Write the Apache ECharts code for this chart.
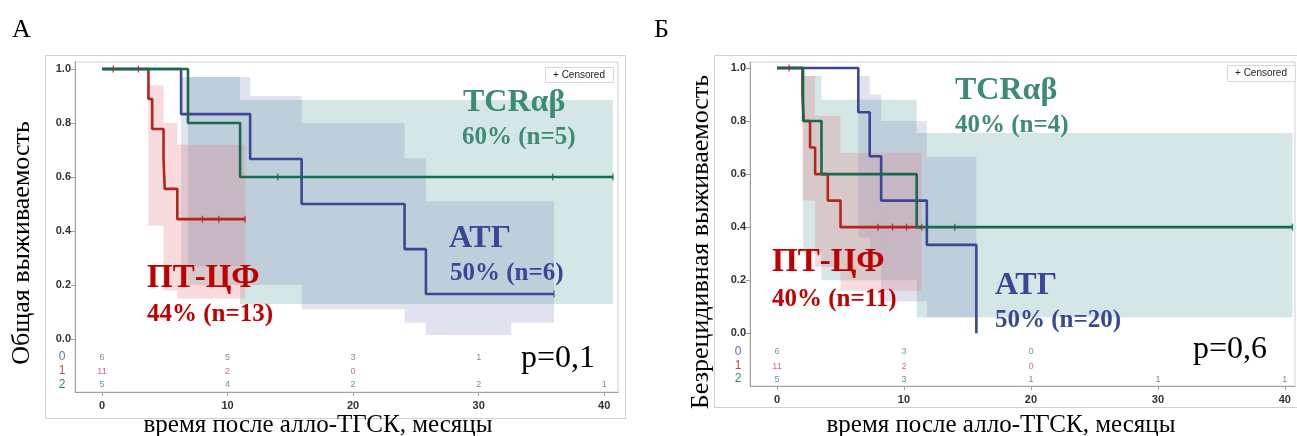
<!DOCTYPE html>
<html>
<head>
<meta charset="utf-8">
<script src="https://cdn.jsdelivr.net/npm/echarts@6/dist/echarts.min.js"></script>
<style>
  html, body { margin: 0; padding: 0; background: #fff; }
  #charts { width: 1297px; height: 436px; }
</style>
</head>
<body>
<div id="charts"></div>
<script>
// ---- data ----
const timeTicks = [0, 10, 20, 30, 40]
const survTicks = [0, 0.2, 0.4, 0.6, 0.8, 1.0]

// panel A: overall survival, KM steps [month, survival]
const osAtg = [[0, 1], [6.3, 0.833], [11.8, 0.667], [15.9, 0.5], [24.1, 0.333], [25.8, 0.167], [36.0, 0.167]]
const osPtcf = [[0, 1], [3.7, 0.889], [4.0, 0.778], [4.9, 0.667], [5.0, 0.556], [6.0, 0.444], [11.4, 0.444]]
const osTcr = [[0, 1], [6.85, 0.8], [11.0, 0.6], [40.7, 0.6]]
const osAtgCens = [[36.0, 0.167]]
const osPtcfCens = [[0.9, 1], [2.9, 1], [8.0, 0.444], [9.3, 0.444], [11.4, 0.444]]
const osTcrCens = [[14.0, 0.6], [35.9, 0.6], [40.7, 0.6]]
// confidence bands [from, to, lower, upper]
const osAtgBand = [[6.3, 11.8, 0.27, 0.97], [11.8, 15.9, 0.2, 0.9], [15.9, 24.1, 0.11, 0.8], [24.1, 25.8, 0.06, 0.67], [25.8, 32.6, 0.015, 0.51], [32.6, 36.0, 0.06, 0.51]]
const osPtcfBand = [[3.7, 4.9, 0.42, 0.94], [4.9, 6.0, 0.18, 0.8], [6.0, 11.4, 0.15, 0.72]]
const osTcrBand = [[6.85, 11.0, 0.2, 0.97], [11.0, 40.7, 0.13, 0.885]]
const osRiskAtg = [6, 5, 3, 1, null]
const osRiskPtcf = [11, 2, 0, null, null]
const osRiskTcr = [5, 4, 2, 2, 1]

// panel B: relapse-free survival
const rfsAtg = [[0, 1], [6.4, 0.833], [7.3, 0.667], [8.2, 0.5], [11.8, 0.333], [15.7, 0]]
const rfsPtcf = [[0, 1], [2.0, 0.9], [2.1, 0.8], [2.6, 0.7], [3.0, 0.6], [4.0, 0.5], [5.0, 0.4], [11.4, 0.4]]
const rfsTcr = [[0, 1], [2.05, 0.8], [3.5, 0.6], [11.0, 0.4], [40.6, 0.4]]
const rfsAtgCens = []
const rfsPtcfCens = [[0.95, 1], [7.95, 0.4], [9.1, 0.4], [10.2, 0.4], [11.4, 0.4]]
const rfsTcrCens = [[14.0, 0.4], [40.6, 0.4]]
const rfsAtgBand = [[6.4, 7.3, 0.36, 0.97], [7.3, 8.2, 0.3, 0.9], [8.2, 11.8, 0.12, 0.8], [11.8, 15.7, 0.06, 0.665]]
const rfsPtcfBand = [[2.0, 3.0, 0.5, 0.97], [3.0, 5.0, 0.25, 0.82], [5.0, 11.4, 0.16, 0.68]]
const rfsTcrBand = [[2.05, 3.5, 0.3, 0.97], [3.5, 11.0, 0.2, 0.88], [11.0, 40.6, 0.06, 0.755]]
const rfsRiskAtg = [6, 3, 0, null, null]
const rfsRiskPtcf = [11, 2, 0, null, null]
const rfsRiskTcr = [5, 3, 1, 1, 1]

// ---- styles ----
const SERIF = '"Liberation Serif", "Times New Roman", serif'
const SANS = '"Liberation Sans", Arial, sans-serif'
const C = {
  atg: '#3c4696', ptcf: '#b3261e', tcr: '#17694f',
  atgBand: 'rgba(100,110,175,0.2)', ptcfBand: 'rgba(225,110,120,0.25)', tcrBand: 'rgba(100,170,165,0.28)',
  atgText: '#3a4796', ptcfText: '#c00000', tcrText: '#3d8a76',
  riskAtg: '#6b6f9e', riskPtcf: '#b05050', riskTcr: '#3d7d6a'
}

function bandSeries(idx, data, color) {
  return {
    type: 'custom', xAxisIndex: idx, yAxisIndex: idx, silent: true, z: 1,
    encode: { x: [0, 1], y: [2, 3] },
    data: data,
    renderItem(params, api) {
      const p0 = api.coord([api.value(0), api.value(3)])
      const p1 = api.coord([api.value(1), api.value(2)])
      return {
        type: 'rect',
        shape: { x: p0[0], y: p0[1], width: p1[0] - p0[0], height: p1[1] - p0[1] },
        style: { fill: color }
      }
    }
  }
}
function curveSeries(idx, data, color) {
  return {
    type: 'line', xAxisIndex: idx, yAxisIndex: idx, step: 'end', z: 3,
    showSymbol: false, silent: true, data: data,
    lineStyle: { color: color, width: 2.6 }
  }
}
function censorSeries(idx, data, color) {
  return {
    type: 'scatter', xAxisIndex: idx, yAxisIndex: idx, z: 4, silent: true,
    symbol: 'rect', symbolSize: [1.4, 7], data: data,
    itemStyle: { color: color }
  }
}
function riskSeries(idx, counts, rowY, color) {
  const data = []
  counts.forEach((n, i) => { if (n !== null) data.push([timeTicks[i], rowY, n]) })
  return {
    type: 'scatter', xAxisIndex: idx, yAxisIndex: idx, z: 4, silent: true,
    symbolSize: 1, itemStyle: { color: 'rgba(0,0,0,0)' }, data: data,
    label: {
      show: true, position: 'inside', formatter: p => String(p.value[2]),
      color: color, fontSize: 9, fontFamily: SANS
    }
  }
}
function xAxisDef(idx, min, max) {
  return {
    type: 'value', gridIndex: idx, min: min, max: max,
    axisLine: { show: true, onZero: false, lineStyle: { color: '#a0a0a0' } },
    axisTick: { show: true, length: 4, customValues: timeTicks, lineStyle: { color: '#a0a0a0' } },
    axisLabel: { customValues: timeTicks, margin: 8, color: '#333', fontSize: 11, fontWeight: 'bold', fontFamily: SANS },
    splitLine: { show: false }
  }
}
function yAxisDef(idx, min, max) {
  return {
    type: 'value', gridIndex: idx, min: min, max: max,
    axisLine: { show: true, onZero: false, lineStyle: { color: '#a0a0a0' } },
    axisTick: { show: true, length: 4, customValues: survTicks, lineStyle: { color: '#a0a0a0' } },
    axisLabel: { customValues: survTicks, margin: 4, color: '#333', fontSize: 11, fontWeight: 'bold', fontFamily: SANS, formatter: v => v.toFixed(1) },
    splitLine: { show: false }
  }
}
function txt(x, y, text, size, color, opts) {
  const o = opts || {}
  return {
    type: 'text', x: x, y: y, rotation: o.rotation || 0, z: 10,
    style: {
      text: text, fill: color, textAlign: o.align || 'left', textVerticalAlign: 'middle',
      font: (o.weight || 'normal') + ' ' + size + 'px ' + (o.family || SERIF)
    }
  }
}
function censoredBox(x, y, w, h) {
  return [
    { type: 'rect', shape: { x: x + 0.5, y: y + 0.5, width: w, height: h }, style: { fill: '#fff', stroke: '#d8d8d8', lineWidth: 1 }, z: 9 },
    txt(x + w / 2, y + h / 2 + 0.5, '+ Censored', 10, '#222', { align: 'center', family: SANS })
  ]
}

// risk table rows sit below the zero line
const rowsA = [-0.067, -0.119, -0.170]
const rowsB = [-0.070, -0.126, -0.175]

const charts = echarts.init(document.getElementById('charts'))
const option = {
  animation: false,
  grid: [
    { left: 75, top: 62, width: 543, height: 330, show: true, borderColor: '#d0d0d0', borderWidth: 1 },
    { left: 750, top: 62, width: 545, height: 324, show: true, borderColor: '#d0d0d0', borderWidth: 1 }
  ],
  xAxis: [xAxisDef(0, -2.15, 41.1), xAxisDef(1, -2.13, 40.8)],
  yAxis: [yAxisDef(0, -0.196, 1.026), yAxisDef(1, -0.199, 1.0226)],
  series: [
    bandSeries(0, osTcrBand, C.tcrBand),
    bandSeries(0, osAtgBand, C.atgBand),
    bandSeries(0, osPtcfBand, C.ptcfBand),
    curveSeries(0, osPtcf, C.ptcf),
    curveSeries(0, osAtg, C.atg),
    curveSeries(0, osTcr, C.tcr),
    censorSeries(0, osPtcfCens, C.ptcf),
    censorSeries(0, osAtgCens, C.atg),
    censorSeries(0, osTcrCens, C.tcr),
    riskSeries(0, osRiskAtg, rowsA[0], C.riskAtg),
    riskSeries(0, osRiskPtcf, rowsA[1], C.riskPtcf),
    riskSeries(0, osRiskTcr, rowsA[2], C.riskTcr),

    bandSeries(1, rfsTcrBand, C.tcrBand),
    bandSeries(1, rfsAtgBand, C.atgBand),
    bandSeries(1, rfsPtcfBand, C.ptcfBand),
    curveSeries(1, rfsPtcf, C.ptcf),
    curveSeries(1, rfsAtg, C.atg),
    curveSeries(1, rfsTcr, C.tcr),
    censorSeries(1, rfsPtcfCens, C.ptcf),
    censorSeries(1, rfsAtgCens, C.atg),
    censorSeries(1, rfsTcrCens, C.tcr),
    riskSeries(1, rfsRiskAtg, rowsB[0], C.riskAtg),
    riskSeries(1, rfsRiskPtcf, rowsB[1], C.riskPtcf),
    riskSeries(1, rfsRiskTcr, rowsB[2], C.riskTcr)
  ],
  graphic: [
    // outer frames
    { type: 'rect', shape: { x: 45.5, y: 55.5, width: 580, height: 363 }, style: { fill: 'none', stroke: '#d0d0d0', lineWidth: 1 }, z: 0 },
    { type: 'rect', shape: { x: 714.5, y: 55.5, width: 600, height: 352 }, style: { fill: 'none', stroke: '#d0d0d0', lineWidth: 1 }, z: 0 },
    ...censoredBox(545, 67, 68, 15),
    ...censoredBox(1227, 65, 68, 16),
    // panel letters
    txt(12, 30, 'А', 26, '#000'),
    txt(654, 30, 'Б', 26, '#000'),
    // axis titles
    txt(22, 243, 'Общая выживаемость', 26, '#000', { rotation: Math.PI / 2, align: 'center' }),
    txt(701, 242, 'Безрецидивная выживаемость', 26, '#000', { rotation: Math.PI / 2, align: 'center' }),
    txt(318, 425, 'время после алло-ТГСК, месяцы', 25, '#000', { align: 'center' }),
    txt(1001, 425, 'время после алло-ТГСК, месяцы', 25, '#000', { align: 'center' }),
    // risk table row labels
    txt(62, 357, '0', 12, C.riskAtg, { align: 'center', family: SANS }),
    txt(62, 371, '1', 12, C.riskPtcf, { align: 'center', family: SANS }),
    txt(62, 385, '2', 12, C.riskTcr, { align: 'center', family: SANS }),
    txt(738, 352, '0', 12, C.riskAtg, { align: 'center', family: SANS }),
    txt(738, 366, '1', 12, C.riskPtcf, { align: 'center', family: SANS }),
    txt(738, 379, '2', 12, C.riskTcr, { align: 'center', family: SANS }),
    // group labels, panel A
    txt(463, 103, 'TCRαβ', 32, C.tcrText, { weight: 'bold' }),
    txt(462, 138, '60% (n=5)', 25, C.tcrText, { weight: 'bold' }),
    txt(449, 239, 'АТГ', 32, C.atgText, { weight: 'bold' }),
    txt(450, 274, '50% (n=6)', 25, C.atgText, { weight: 'bold' }),
    txt(147, 278, 'ПТ-ЦФ', 33, C.ptcfText, { weight: 'bold' }),
    txt(147, 315, '44% (n=13)', 25, C.ptcfText, { weight: 'bold' }),
    txt(521, 359, 'p=0,1', 32, '#000'),
    // group labels, panel B
    txt(955, 91, 'TCRαβ', 32, C.tcrText, { weight: 'bold' }),
    txt(955, 126, '40% (n=4)', 25, C.tcrText, { weight: 'bold' }),
    txt(772, 262, 'ПТ-ЦФ', 33, C.ptcfText, { weight: 'bold' }),
    txt(772, 300, '40% (n=11)', 25, C.ptcfText, { weight: 'bold' }),
    txt(995, 286, 'АТГ', 32, C.atgText, { weight: 'bold' }),
    txt(995, 321, '50% (n=20)', 25, C.atgText, { weight: 'bold' }),
    txt(1193, 350, 'p=0,6', 32, '#000')
  ]
}
charts.setOption(option)
</script>
</body>
</html>
